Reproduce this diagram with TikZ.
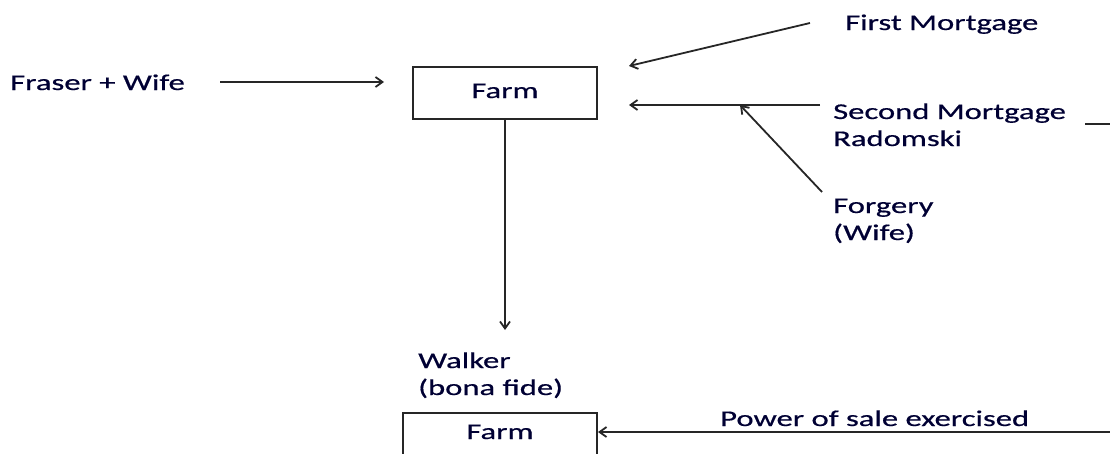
\documentclass[tikz,border=0pt]{standalone}
\usepackage{fontspec}
\setmainfont{Carlito}[FakeStretch=1.45,FakeBold=0.6]
\usetikzlibrary{arrows.meta}
\begin{document}
\begin{tikzpicture}[x=1pt,y=-1pt,>={Straight Barb[length=7pt,width=10pt]}]

	\def\fs{22.5}
	
	% Colours
	\colorlet{textcolor}{black!80!blue}
	\colorlet{linecolor}{black!85}
	
	% Styles
	\tikzstyle{label}=[anchor=base west, inner sep=0pt, text=textcolor, align=left,
		font=\fontsize{\fs pt}{27pt}\selectfont]
	\tikzstyle{farmbox}=[draw=linecolor, line width=2pt, text=textcolor, inner sep=0pt,
		text height=1em, text depth=0pt, font=\fontsize{\fs pt}{27pt}\selectfont]
	\tikzstyle{conn}=[draw=linecolor, line width=1.8pt, ->]
	
	\useasboundingbox (0,0) rectangle (1110,453);
	
	% Boxes
	\node[farmbox, minimum width=184pt, minimum height=52pt] (farm) at (505,93) {Farm};
	\node[farmbox, minimum width=194pt, minimum height=46pt, text height=0.6em] (farmB) at (500,436) {Farm};
	
	% Labels (base of a two-line label is its last line)
	\node[label] (fraser) at (10,90) {Fraser + Wife};
	\node[label] (first) at (845,30) {First Mortgage};
	\node[label] (second) at (833,146) {Second Mortgage\\Radomski};
	\node[label] (forgery) at (833,240) {Forgery\\(Wife)};
	\node[label] (walker) at (418,395) {Walker\\(bona fide)};
	\node[label] (power) at (720,426) {Power of sale exercised};
	
	% Free ends
	\coordinate (fw) at (220,82);
	\coordinate (fm) at (810,23);
	\coordinate (sm) at (820,105);
	\coordinate (fg) at (822,192);
	\coordinate (fgend) at (740,105);
	\coordinate (walkin) at (505,330);
	\coordinate (ps) at (1110,432);
	
	% Arrows
	\draw[conn, shorten >=28pt] (fw) -- ([yshift=11pt]farm.west);
	\draw[conn] (fm) -- ([xshift=31pt]farm.north east);
	\draw[conn] (sm) -- ([xshift=31pt,yshift=-12pt]farm.east);
	\draw[conn] (fg) -- (fgend);
	\draw[conn] (farm.south) -- (walkin);
	\draw[conn] (ps) -- ([yshift=4pt]farmB.east);
	\draw[draw=linecolor, line width=1.8pt] (1085,124) -- (1110,124);

\end{tikzpicture}
\end{document}
